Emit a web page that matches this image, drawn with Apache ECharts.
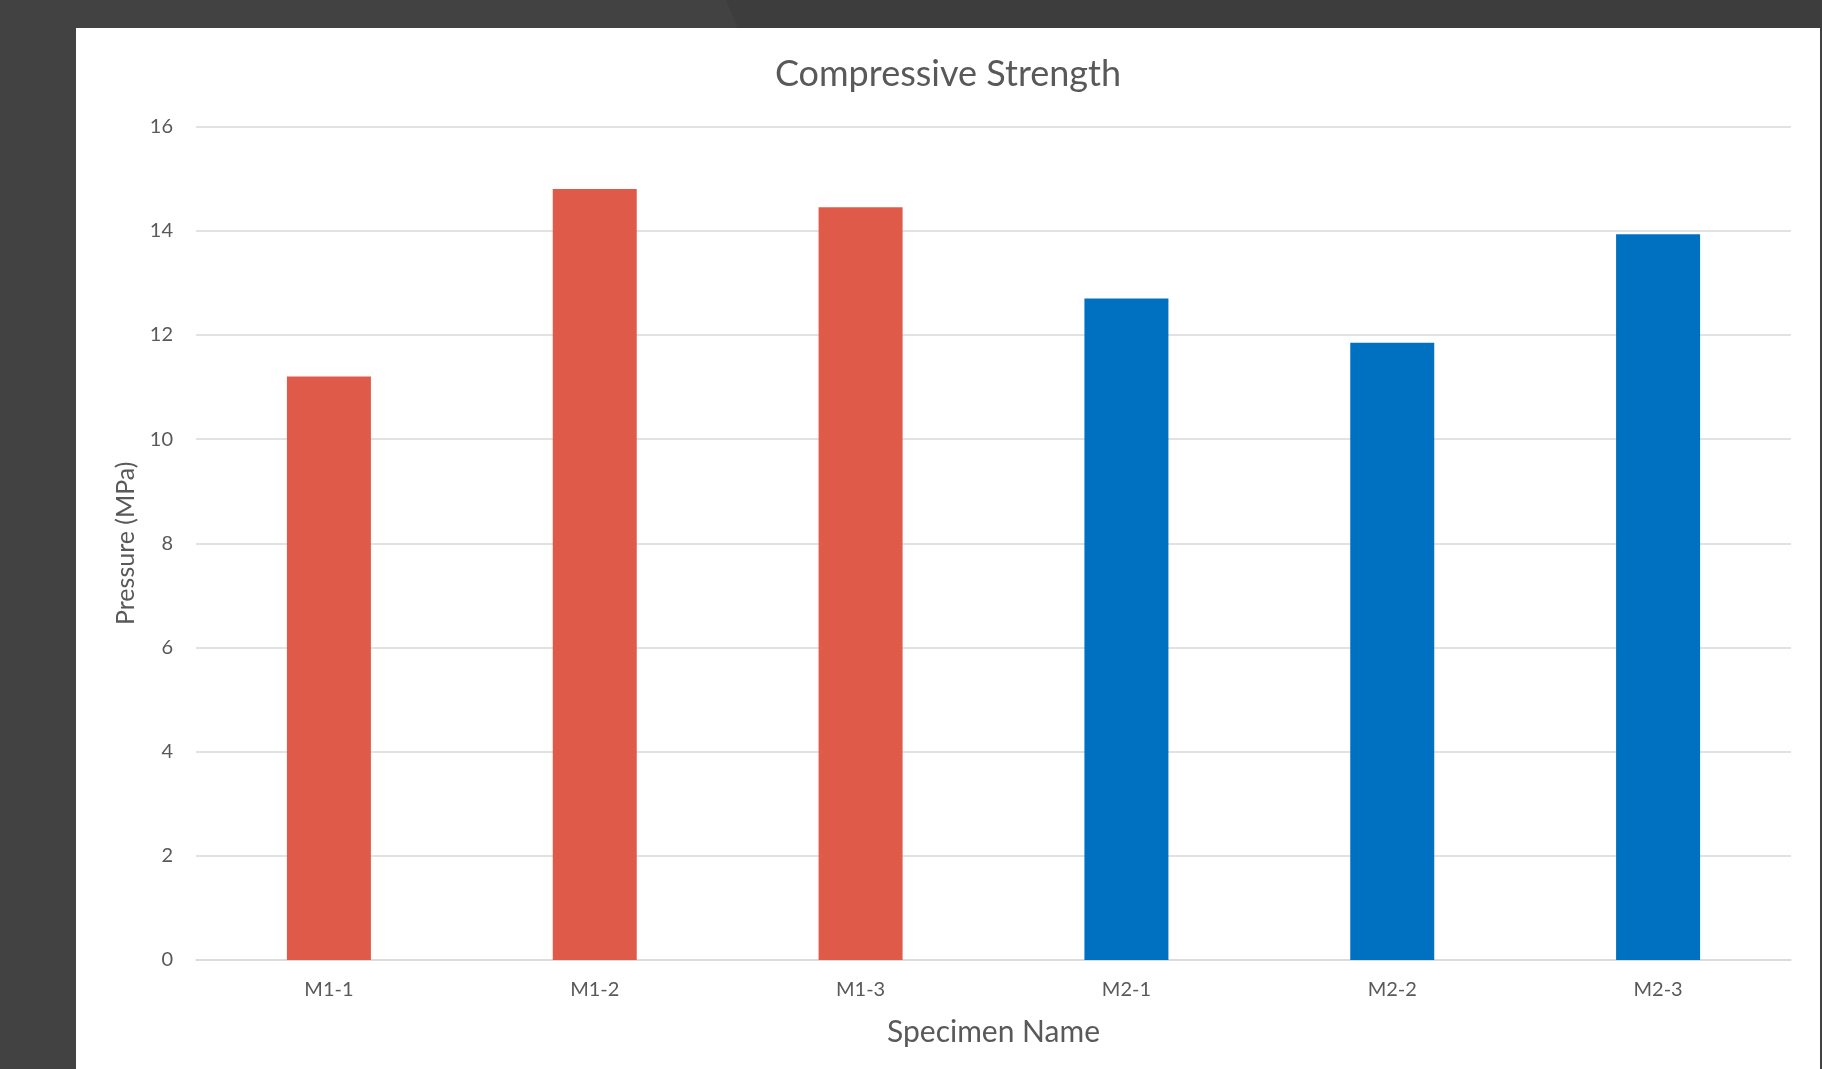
<!DOCTYPE html>
<html>
<head>
<meta charset="utf-8">
<script src="https://cdn.jsdelivr.net/npm/echarts@6/dist/echarts.min.js"></script>
<style>
  html, body { margin: 0; padding: 0; width: 1822px; height: 1069px; background: #424242; overflow: hidden; }
  #stripe { position: absolute; left: 0; top: 0; width: 1822px; height: 28px; background: #3d3d3d;
            clip-path: polygon(726px 0, 1822px 0, 1822px 28px, 738px 28px); }
  #chart { position: absolute; left: 76px; top: 28px; width: 1744px; height: 1041px; background: #fff; }
</style>
</head>
<body>
<div id="stripe"></div>
<div id="chart"></div>
<script>
  var myChart = echarts.init(document.getElementById('chart'))

  // 试件名称和抗压强度
  var categories = ['M1-1', 'M1-2', 'M1-3', 'M2-1', 'M2-2', 'M2-3']
  var strength = [11.2, 14.8, 14.45, 12.7, 11.85, 13.93]
  var groups = [0, 0, 0, 1, 1, 1]
  var groupColors = ['#e05a4a', '#0070c0']
  var yTicks = [0, 2, 4, 6, 8, 10, 12, 14, 16]

  var font = 'Lato'
  var textColor = '#595959'

  var option = {
    backgroundColor: '#fff',
    title: {
      text: 'Compressive Strength',
      left: 'center',
      top: 23,
      textStyle: { fontFamily: font, fontSize: 36, fontWeight: 'normal', color: textColor }
    },
    grid: { left: 120, right: 29, top: 98.5, bottom: 109, containLabel: false },
    xAxis: {
      type: 'category',
      data: categories,
      name: 'Specimen Name',
      nameLocation: 'middle',
      nameGap: 57,
      nameTextStyle: { fontFamily: font, fontSize: 30, color: textColor },
      axisLine: { lineStyle: { color: '#d9d9d9', width: 1.5 } },
      axisTick: { show: false },
      axisLabel: { fontFamily: font, fontSize: 20, color: textColor, margin: 20 }
    },
    yAxis: {
      type: 'value',
      min: yTicks[0],
      max: yTicks[yTicks.length - 1],
      interval: 2,
      name: 'Pressure (MPa)',
      nameLocation: 'middle',
      nameGap: 55,
      nameTextStyle: { fontFamily: font, fontSize: 25, color: textColor },
      axisLine: { show: false },
      axisTick: { show: false },
      axisLabel: { fontFamily: font, fontSize: 20, color: textColor, margin: 23 },
      splitLine: { lineStyle: { color: '#d9d9d9', width: 1.5 } }
    },
    series: [
      {
        type: 'bar',
        barWidth: 84,
        data: strength.map(function(v, i) {
          return { value: v, itemStyle: { color: groupColors[groups[i]] } }
        })
      }
    ]
  }

  myChart.setOption(option)
</script>
</body>
</html>
